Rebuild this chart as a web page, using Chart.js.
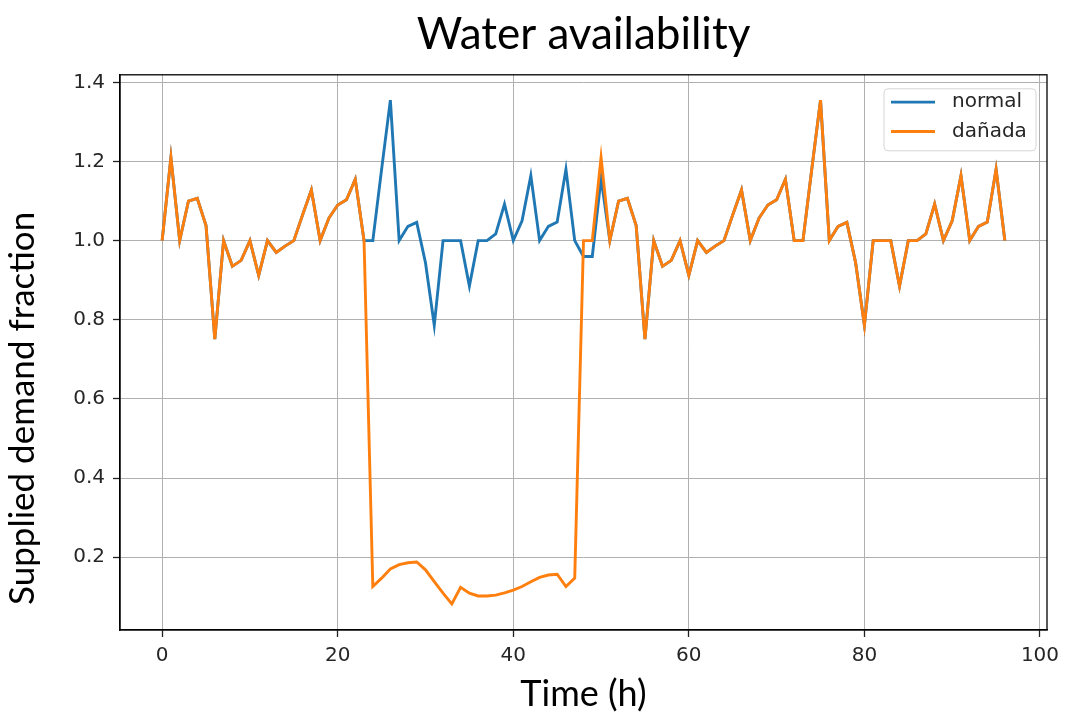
<!DOCTYPE html>
<html>
<head>
<meta charset="utf-8">
<script src="https://cdn.jsdelivr.net/npm/chart.js@4.4.1/dist/chart.umd.min.js"></script>
<style>
  html, body { margin: 0; padding: 0; background: #ffffff; }
  #wrap { width: 1074px; height: 719px; }
</style>
</head>
<body>
<div id="wrap"><canvas id="c" width="1074" height="719"></canvas></div>
<script>
// ---- data ----
const hours = [0,1,2,3,4,5,6,7,8,9,10,11,12,13,14,15,16,17,18,19,20,21,22,23,24,25,26,27,28,29,30,31,32,33,34,35,36,37,38,39,40,41,42,43,44,45,46,47,48,49,50,51,52,53,54,55,56,57,58,59,60,61,62,63,64,65,66,67,68,69,70,71,72,73,74,75,76,77,78,79,80,81,82,83,84,85,86,87,88,89,90,91,92,93,94,95,96];

const normal = [
  1.0, 1.21, 1.0, 1.10, 1.107, 1.038, 0.751, 1.0, 0.935, 0.95,
  1.0, 0.912, 1.0, 0.97, 0.986, 1.0, 1.065, 1.128, 1.0, 1.057,
  1.09, 1.103, 1.155, 1.0, 1.0, 1.18, 1.355, 1.0, 1.036, 1.046,
  0.944, 0.786, 1.0, 1.0, 1.0, 0.885, 1.0, 1.0, 1.017, 1.092,
  1.0, 1.05, 1.164, 1.0, 1.036, 1.047, 1.18, 1.0, 0.96, 0.96,
  1.158, 1.0, 1.10, 1.107, 1.038, 0.751, 1.0, 0.935, 0.95, 1.0,
  0.912, 1.0, 0.97, 0.986, 1.0, 1.065, 1.128, 1.0, 1.057, 1.09,
  1.103, 1.155, 1.0, 1.0, 1.18, 1.355, 1.0, 1.036, 1.046, 0.944,
  0.786, 1.0, 1.0, 1.0, 0.885, 1.0, 1.0, 1.017, 1.092, 1.0,
  1.05, 1.164, 1.0, 1.036, 1.047, 1.18, 1.0
];

const danada = [
  1.0, 1.21, 1.0, 1.10, 1.107, 1.038, 0.751, 1.0, 0.935, 0.95,
  1.0, 0.912, 1.0, 0.97, 0.986, 1.0, 1.065, 1.128, 1.0, 1.057,
  1.09, 1.103, 1.155, 1.0, 0.126, 0.147, 0.170, 0.181, 0.186, 0.188,
  0.168, 0.138, 0.109, 0.082, 0.124, 0.109, 0.102, 0.102, 0.104, 0.110,
  0.117, 0.126, 0.138, 0.149, 0.155, 0.157, 0.126, 0.147, 1.0, 1.0,
  1.21, 1.0, 1.10, 1.107, 1.038, 0.751, 1.0, 0.935, 0.95, 1.0,
  0.912, 1.0, 0.97, 0.986, 1.0, 1.065, 1.128, 1.0, 1.057, 1.09,
  1.103, 1.155, 1.0, 1.0, 1.18, 1.355, 1.0, 1.036, 1.046, 0.944,
  0.786, 1.0, 1.0, 1.0, 0.885, 1.0, 1.0, 1.017, 1.092, 1.0,
  1.05, 1.164, 1.0, 1.036, 1.047, 1.18, 1.0
];

const seriesLabels = ['normal', 'dañada'];
const xTicks = [0, 20, 40, 60, 80, 100];
const yTicks = [0.2, 0.4, 0.6, 0.8, 1.0, 1.2, 1.4];

const titleText = 'Water availability';
const xTitle = 'Time (h)';
const yTitle = 'Supplied demand fraction';

// ---- plugins ----
const framePlugin = {
  id: 'frame',
  afterDatasetsDraw(chart) {
    const { ctx, chartArea: a } = chart;
    ctx.save();
    ctx.strokeStyle = '#000000';
    ctx.lineWidth = 1.3;
    ctx.strokeRect(a.left, a.top, a.right - a.left, a.bottom - a.top);
    ctx.restore();
  }
};

const yTitlePlugin = {
  id: 'yTitle',
  afterDraw(chart) {
    const { ctx, chartArea: a } = chart;
    ctx.save();
    ctx.translate(34, a.bottom - 25);
    ctx.rotate(-Math.PI / 2);
    ctx.fillStyle = '#000000';
    ctx.font = '35px Lato';
    ctx.textAlign = 'left';
    ctx.textBaseline = 'alphabetic';
    ctx.fillText(yTitle, 0, 0);
    ctx.restore();
  }
};

const boxLegendPlugin = {
  id: 'boxLegend',
  afterDatasetsDraw(chart) {
    const { ctx, chartArea: a } = chart;
    const w = 152, h = 62, r = 4;
    const x0 = a.right - 11 - w, y0 = a.top + 14;
    ctx.save();
    ctx.beginPath();
    ctx.moveTo(x0 + r, y0);
    ctx.lineTo(x0 + w - r, y0);
    ctx.quadraticCurveTo(x0 + w, y0, x0 + w, y0 + r);
    ctx.lineTo(x0 + w, y0 + h - r);
    ctx.quadraticCurveTo(x0 + w, y0 + h, x0 + w - r, y0 + h);
    ctx.lineTo(x0 + r, y0 + h);
    ctx.quadraticCurveTo(x0, y0 + h, x0, y0 + h - r);
    ctx.lineTo(x0, y0 + r);
    ctx.quadraticCurveTo(x0, y0, x0 + r, y0);
    ctx.closePath();
    ctx.fillStyle = 'rgba(255,255,255,0.8)';
    ctx.fill();
    ctx.strokeStyle = '#d6d6d6';
    ctx.lineWidth = 1;
    ctx.stroke();
    chart.data.datasets.forEach((ds, i) => {
      const y = y0 + 13.3 + i * 29.4;
      ctx.beginPath();
      ctx.moveTo(x0 + 7, y);
      ctx.lineTo(x0 + 51, y);
      ctx.strokeStyle = ds.borderColor;
      ctx.lineWidth = 2.8;
      ctx.stroke();
      ctx.fillStyle = '#262626';
      ctx.font = '20px "DejaVu Sans"';
      ctx.textBaseline = 'middle';
      ctx.textAlign = 'left';
      ctx.fillText(ds.label, x0 + 68, y);
    });
    ctx.restore();
  }
};

const toPoints = (vals) => hours.map((h, i) => ({ x: h, y: vals[i] }));

new Chart(document.getElementById('c'), {
  type: 'line',
  data: {
    datasets: [
      { label: seriesLabels[0], data: toPoints(normal), borderColor: '#1f77b4', borderWidth: 2.9, pointRadius: 0, tension: 0, order: 2 },
      { label: seriesLabels[1], data: toPoints(danada), borderColor: '#ff7f0e', borderWidth: 2.9, pointRadius: 0, tension: 0, order: 1 }
    ]
  },
  options: {
    responsive: false,
    animation: false,
    events: [],
    layout: { padding: { top: 0, right: 27, bottom: 0, left: 0 } },
    plugins: {
      legend: { display: false },
      tooltip: { enabled: false },
      title: {
        display: true,
        text: titleText,
        fullSize: false,
        color: '#000000',
        font: { family: 'Lato', size: 44, weight: 'normal', lineHeight: 1.2 },
        padding: { top: 8, bottom: 14 }
      }
    },
    scales: {
      x: {
        type: 'linear',
        min: -4.8,
        max: 100.8,
        afterBuildTicks: (s) => { s.ticks = xTicks.map(v => ({ value: v })); },
        afterFit: (s) => { s.height = 89; },
        ticks: {
          color: '#262626',
          font: { family: 'DejaVu Sans', size: 20 },
          padding: 7,
          maxRotation: 0,
          autoSkip: false,
          callback: (v) => String(v)
        },
        grid: { color: '#b0b0b0', lineWidth: 1, tickColor: '#222222', tickLength: 7, tickWidth: 1.3 },
        border: { display: true, color: '#000000', width: 1.3 },
        title: {
          display: true,
          text: xTitle,
          color: '#000000',
          font: { family: 'Lato', size: 36, weight: 'normal', lineHeight: 1.2 },
          padding: { top: 0, bottom: 3 }
        }
      },
      y: {
        type: 'linear',
        min: 0.016,
        max: 1.419,
        afterBuildTicks: (s) => { s.ticks = yTicks.map(v => ({ value: v })); },
        afterFit: (s) => { s.width = 120; },
        ticks: {
          color: '#262626',
          font: { family: 'DejaVu Sans', size: 20 },
          padding: 8,
          autoSkip: false,
          callback: (v) => Number(v).toFixed(1)
        },
        grid: { color: '#b0b0b0', lineWidth: 1, tickColor: '#222222', tickLength: 7, tickWidth: 1.3 },
        border: { display: true, color: '#000000', width: 1.3 },
        title: { display: false, text: yTitle }
      }
    }
  },
  plugins: [framePlugin, boxLegendPlugin, yTitlePlugin]
});
</script>
</body>
</html>
